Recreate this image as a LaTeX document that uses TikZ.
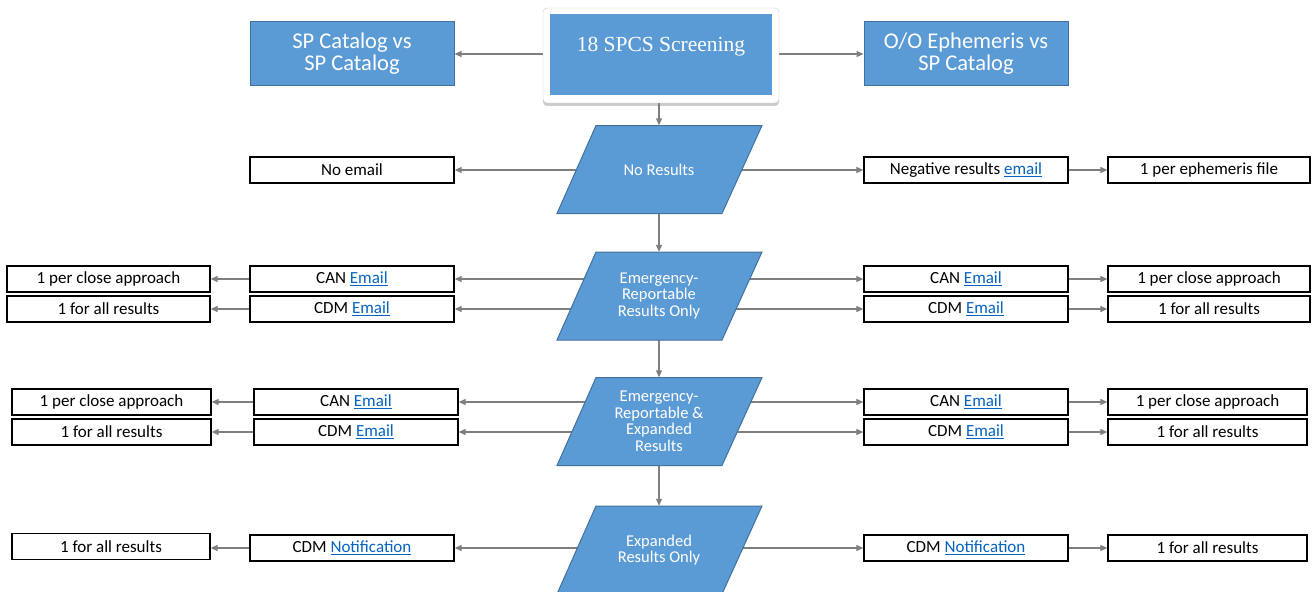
\documentclass[tikz,border=0pt]{standalone}
\usepackage{fontspec}
\setmainfont{Carlito}
\newfontfamily\titlefont{Liberation Serif}
\usetikzlibrary{arrows.meta,shadows,backgrounds,calc}
\definecolor{myblue}{HTML}{5B9BD5}
\definecolor{bordblue}{HTML}{41719C}
\definecolor{conn}{HTML}{7F7F7F}
\definecolor{linkc}{HTML}{0563C1}
\newcommand{\lnk}[1]{\textcolor{linkc}{\underline{#1}}}
\newcommand{\parashape}[1]{\path[para] ($(#1.center)+(-102,44)$) -- ($(#1.center)+(-63,-44)$) -- ($(#1.center)+(103,-44)$) -- ($(#1.center)+(63,44)$) -- cycle;}
\begin{document}
\begin{tikzpicture}[x=1pt,y=-1pt,
 wbox/.style={draw=black,line width=1.3pt,fill=white,minimum height=26pt,inner sep=0pt,font=\fontsize{17}{19}\selectfont},
 bbox/.style={draw=bordblue,fill=myblue,line width=1pt,minimum width=204pt,minimum height=64pt,text=white,align=center,font=\fontsize{22.5}{22}\selectfont},
 ptext/.style={text=white,align=center,minimum height=88pt,inner sep=0pt,font=\fontsize{16.5}{16.5}\selectfont},
 para/.style={fill=myblue,draw=bordblue,line width=1pt},
 arr/.style={draw=conn,line width=1.1pt,-{Triangle[length=7pt,width=6pt]}}
]
\useasboundingbox (0,0) rectangle (1313,591);
% title
\node[draw=white!80!black,fill=white,rounded corners=4pt,minimum width=236pt,minimum height=95pt,
      drop shadow={opacity=0.4,shadow xshift=0pt,shadow yshift=-3pt}] (tframe) at (661,55.5) {};
\node[fill=myblue,minimum width=222pt,minimum height=81pt,text=white,inner sep=0pt,
      text height=15pt,text depth=21pt,font=\titlefont\fontsize{21.5}{24}\selectfont] (title) at (661,54.5) {18 SPCS Screening};
\node[bbox] (spcat) at (352,54) {SP Catalog vs\\SP Catalog};
\node[bbox] (ooeph) at (966,54) {O/O Ephemeris vs\\SP Catalog};
% parallelogram texts
\node[ptext] (p1) at (659,169.5) {No Results};
\node[ptext] (p2) at (659,296) {Emergency-\\Reportable\\Results Only};
\node[ptext] (p3) at (659,421.5) {Emergency-\\Reportable \&\\Expanded\\Results};
\node[ptext] (p4) at (659,550) {Expanded\\Results Only};
% row 1
\node[wbox,minimum width=204pt] (noemail) at (352,170) {No email};
\node[wbox,minimum width=204pt] (negres) at (966,170) {Negative results \lnk{email}};
\node[wbox,minimum width=202pt] (perfile) at (1209,170) {1 per ephemeris file};
% row 2
\node[wbox,minimum width=204pt] (lcan2) at (352,279) {CAN \lnk{Email}};
\node[wbox,minimum width=204pt] (lcdm2) at (352,309) {CDM \lnk{Email}};
\node[wbox,minimum width=203pt] (llcan2) at (108.5,279) {1 per close approach};
\node[wbox,minimum width=203pt] (llcdm2) at (108.5,309) {1 for all results};
\node[wbox,minimum width=204pt] (rcan2) at (966,279) {CAN \lnk{Email}};
\node[wbox,minimum width=204pt] (rcdm2) at (966,309) {CDM \lnk{Email}};
\node[wbox,minimum width=202pt] (rrcan2) at (1209,279) {1 per close approach};
\node[wbox,minimum width=202pt] (rrcdm2) at (1209,309) {1 for all results};
% row 3
\node[wbox,minimum width=204pt] (lcan3) at (356,402) {CAN \lnk{Email}};
\node[wbox,minimum width=204pt] (lcdm3) at (356,432) {CDM \lnk{Email}};
\node[wbox,minimum width=199pt] (llcan3) at (111.5,402) {1 per close approach};
\node[wbox,minimum width=199pt] (llcdm3) at (111.5,432) {1 for all results};
\node[wbox,minimum width=204pt] (rcan3) at (966,402) {CAN \lnk{Email}};
\node[wbox,minimum width=204pt] (rcdm3) at (966,432) {CDM \lnk{Email}};
\node[wbox,minimum width=199pt] (rrcan3) at (1207.5,402) {1 per close approach};
\node[wbox,minimum width=199pt] (rrcdm3) at (1207.5,432) {1 for all results};
% row 4
\node[wbox,minimum width=204pt] (lcdm4) at (352,548) {CDM \lnk{Notification}};
\node[wbox,minimum width=198pt] (llcdm4) at (111,546.5) {1 for all results};
\node[wbox,minimum width=204pt] (rcdm4) at (966,548) {CDM \lnk{Notification}};
\node[wbox,minimum width=199pt] (rrcdm4) at (1207.5,548) {1 for all results};
\begin{pgfonlayer}{background}
% title connectors
\draw[arr] (tframe.west |- spcat.east) -- (spcat.east);
\draw[arr] (tframe.east |- ooeph.west) -- (ooeph.west);
\draw[arr] (p1.north |- tframe.south) -- (p1.north);
\draw[arr] (p1.south) -- (p2.north);
\draw[arr] (p2.south) -- (p3.north);
\draw[arr] (p3.south) -- (p4.north);
% row 1
\draw[arr] (p1.center |- noemail.east) -- (noemail.east);
\draw[arr] (p1.center |- negres.west) -- (negres.west);
\draw[arr] (negres.east) -- (perfile.west);
% row 2
\foreach \a/\b/\c/\d in {lcan2/llcan2/rcan2/rrcan2, lcdm2/llcdm2/rcdm2/rrcdm2}{
  \draw[arr] (p2.center |- \a.east) -- (\a.east);
  \draw[arr] (\a.west) -- (\b.east);
  \draw[arr] (p2.center |- \c.west) -- (\c.west);
  \draw[arr] (\c.east) -- (\d.west);
}
% row 3
\foreach \a/\b/\c/\d in {lcan3/llcan3/rcan3/rrcan3, lcdm3/llcdm3/rcdm3/rrcdm3}{
  \draw[arr] (p3.center |- \a.east) -- (\a.east);
  \draw[arr] (\a.west) -- (\b.east |- \a.west);
  \draw[arr] (p3.center |- \c.west) -- (\c.west);
  \draw[arr] (\c.east) -- (\d.west);
}
% row 4
\draw[arr] (p4.center |- lcdm4.east) -- (lcdm4.east);
\draw[arr] (lcdm4.west) -- (llcdm4.east |- lcdm4.west);
\draw[arr] (p4.center |- rcdm4.west) -- (rcdm4.west);
\draw[arr] (rcdm4.east) -- (rrcdm4.west);
% parallelograms
\parashape{p1}
\parashape{p2}
\parashape{p3}
\parashape{p4}
\end{pgfonlayer}
\end{tikzpicture}
\end{document}
